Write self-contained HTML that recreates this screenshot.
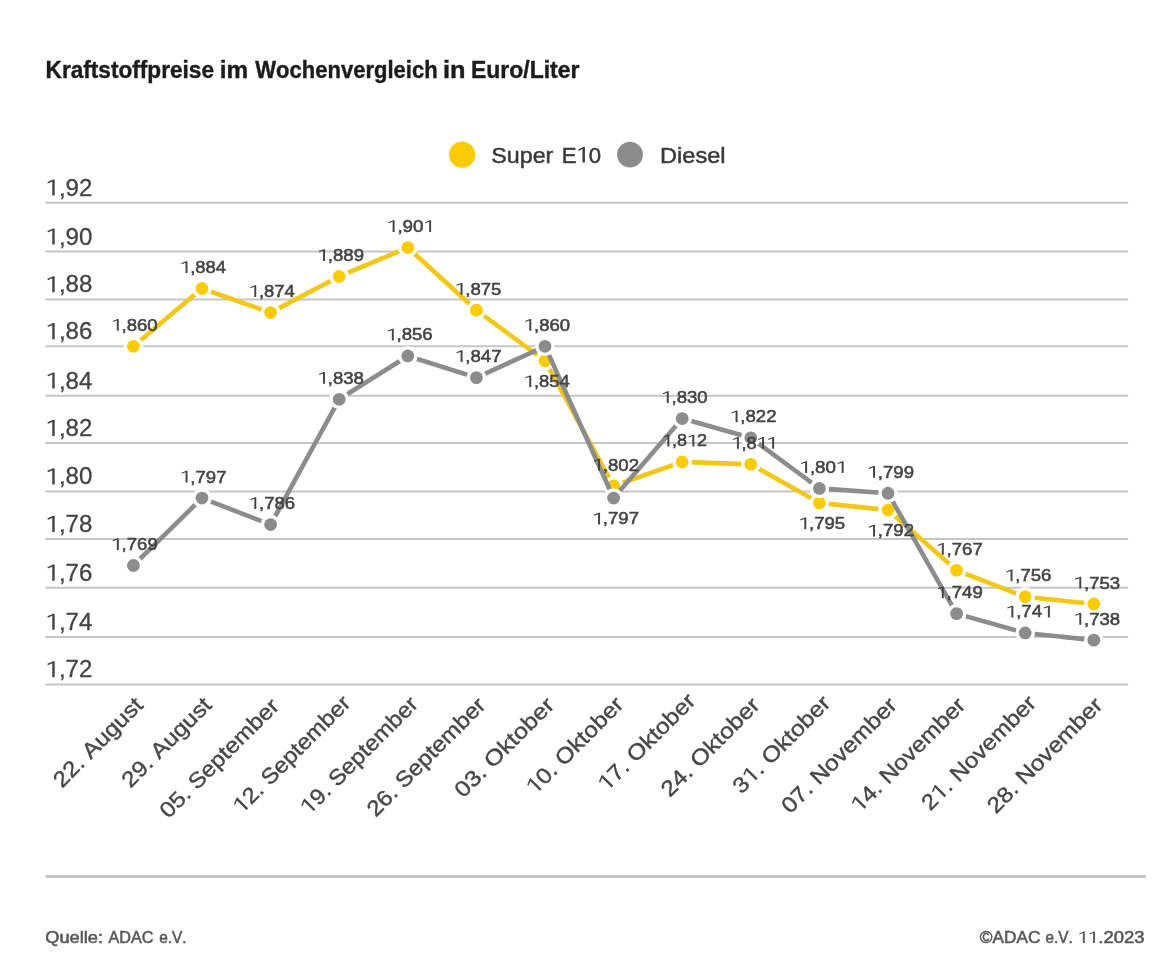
<!DOCTYPE html>
<html lang="de"><head><meta charset="utf-8"><title>Kraftstoffpreise im Wochenvergleich</title>
<style>html,body{margin:0;padding:0;background:#fff;}body{width:1156px;height:977px;overflow:hidden;font-family:"Liberation Sans",sans-serif;}svg{display:block;}</style></head>
<body>
<svg width="1156" height="977" viewBox="0 0 1156 977" font-family="Liberation Sans, sans-serif" style="font-kerning:none" xml:space="preserve">
<rect width="1156" height="977" fill="#ffffff"/>
<g opacity="0.999">
<text x="45.59" y="77.50" font-size="23.3" font-weight="bold" fill="#1c1c1c" stroke="#1c1c1c" stroke-width="0.4" textLength="168.39" lengthAdjust="spacingAndGlyphs">Kraftstoffpreise</text>
<text x="219.80" y="77.50" font-size="23.3" font-weight="bold" fill="#1c1c1c" stroke="#1c1c1c" stroke-width="0.4" textLength="28.41" lengthAdjust="spacingAndGlyphs">im</text>
<text x="255.28" y="77.50" font-size="23.3" font-weight="bold" fill="#1c1c1c" stroke="#1c1c1c" stroke-width="0.4" textLength="182.39" lengthAdjust="spacingAndGlyphs">Wochenvergleich</text>
<text x="443.03" y="77.50" font-size="23.3" font-weight="bold" fill="#1c1c1c" stroke="#1c1c1c" stroke-width="0.4" textLength="22.54" lengthAdjust="spacingAndGlyphs">in</text>
<text x="471.07" y="77.50" font-size="23.3" font-weight="bold" fill="#1c1c1c" stroke="#1c1c1c" stroke-width="0.4" textLength="108.28" lengthAdjust="spacingAndGlyphs">Euro/Liter</text>
<circle cx="462.1" cy="154.7" r="13.1" fill="#fccb00"/>
<circle cx="630.0" cy="154.7" r="12.9" fill="#8c8c8c"/>
<text x="491.34" y="162.50" font-size="22.0" fill="#3a3a3a" stroke="#3a3a3a" stroke-width="0.5" textLength="62.04" lengthAdjust="spacingAndGlyphs">Super</text>
<text x="561.78" y="162.50" font-size="22.0" fill="#3a3a3a" stroke="#3a3a3a" stroke-width="0.5" textLength="39.38" lengthAdjust="spacingAndGlyphs">E 0</text><path d="M582.49,162.50 L584.92,162.50 L584.92,147.10 L583.34,147.10 L578.23,149.52 L578.66,150.95 L582.49,149.10Z" fill="#3a3a3a"/>
<text x="659.96" y="162.50" font-size="22.0" fill="#3a3a3a" stroke="#3a3a3a" stroke-width="0.5" textLength="65.62" lengthAdjust="spacingAndGlyphs">Diesel</text>
<line x1="45.5" x2="1128.2" y1="202.7" y2="202.7" stroke="#c6c6c6" stroke-width="2"/>
<line x1="45.5" x2="1128.2" y1="251.6" y2="251.6" stroke="#c6c6c6" stroke-width="2"/>
<line x1="45.5" x2="1128.2" y1="299.4" y2="299.4" stroke="#c6c6c6" stroke-width="2"/>
<line x1="45.5" x2="1128.2" y1="346.3" y2="346.3" stroke="#c6c6c6" stroke-width="2"/>
<line x1="45.5" x2="1128.2" y1="395.7" y2="395.7" stroke="#c6c6c6" stroke-width="2"/>
<line x1="45.5" x2="1128.2" y1="443.0" y2="443.0" stroke="#c6c6c6" stroke-width="2"/>
<line x1="45.5" x2="1128.2" y1="491.5" y2="491.5" stroke="#c6c6c6" stroke-width="2"/>
<line x1="45.5" x2="1128.2" y1="539.0" y2="539.0" stroke="#c6c6c6" stroke-width="2"/>
<line x1="45.5" x2="1128.2" y1="587.8" y2="587.8" stroke="#c6c6c6" stroke-width="2"/>
<line x1="45.5" x2="1128.2" y1="636.9" y2="636.9" stroke="#c6c6c6" stroke-width="2"/>
<line x1="45.5" x2="1128.2" y1="684.4" y2="684.4" stroke="#c6c6c6" stroke-width="2"/>
<text x="45.57" y="195.60" font-size="23.0" fill="#444444" stroke="#444444" stroke-width="0.3" textLength="46.82" lengthAdjust="spacingAndGlyphs"> ,92</text><path d="M52.27,195.60 L54.67,195.60 L54.67,179.50 L53.15,179.50 L47.40,182.03 L47.85,183.53 L52.27,181.59Z" fill="#444444"/>
<text x="45.57" y="244.50" font-size="23.0" fill="#444444" stroke="#444444" stroke-width="0.3" textLength="46.82" lengthAdjust="spacingAndGlyphs"> ,90</text><path d="M52.27,244.50 L54.67,244.50 L54.67,228.40 L53.15,228.40 L47.40,230.93 L47.85,232.43 L52.27,230.49Z" fill="#444444"/>
<text x="45.57" y="292.30" font-size="23.0" fill="#444444" stroke="#444444" stroke-width="0.3" textLength="46.82" lengthAdjust="spacingAndGlyphs"> ,88</text><path d="M52.27,292.30 L54.67,292.30 L54.67,276.20 L53.15,276.20 L47.40,278.73 L47.85,280.22 L52.27,278.29Z" fill="#444444"/>
<text x="45.57" y="339.20" font-size="23.0" fill="#444444" stroke="#444444" stroke-width="0.3" textLength="46.82" lengthAdjust="spacingAndGlyphs"> ,86</text><path d="M52.27,339.20 L54.67,339.20 L54.67,323.10 L53.15,323.10 L47.40,325.63 L47.85,327.12 L52.27,325.19Z" fill="#444444"/>
<text x="45.57" y="388.60" font-size="23.0" fill="#444444" stroke="#444444" stroke-width="0.3" textLength="46.82" lengthAdjust="spacingAndGlyphs"> ,84</text><path d="M52.27,388.60 L54.67,388.60 L54.67,372.50 L53.15,372.50 L47.40,375.03 L47.85,376.52 L52.27,374.59Z" fill="#444444"/>
<text x="45.57" y="435.90" font-size="23.0" fill="#444444" stroke="#444444" stroke-width="0.3" textLength="46.82" lengthAdjust="spacingAndGlyphs"> ,82</text><path d="M52.27,435.90 L54.67,435.90 L54.67,419.80 L53.15,419.80 L47.40,422.33 L47.85,423.82 L52.27,421.89Z" fill="#444444"/>
<text x="45.57" y="484.40" font-size="23.0" fill="#444444" stroke="#444444" stroke-width="0.3" textLength="46.82" lengthAdjust="spacingAndGlyphs"> ,80</text><path d="M52.27,484.40 L54.67,484.40 L54.67,468.30 L53.15,468.30 L47.40,470.83 L47.85,472.32 L52.27,470.39Z" fill="#444444"/>
<text x="45.57" y="531.90" font-size="23.0" fill="#444444" stroke="#444444" stroke-width="0.3" textLength="46.82" lengthAdjust="spacingAndGlyphs"> ,78</text><path d="M52.27,531.90 L54.67,531.90 L54.67,515.80 L53.15,515.80 L47.40,518.33 L47.85,519.82 L52.27,517.89Z" fill="#444444"/>
<text x="45.57" y="580.70" font-size="23.0" fill="#444444" stroke="#444444" stroke-width="0.3" textLength="46.82" lengthAdjust="spacingAndGlyphs"> ,76</text><path d="M52.27,580.70 L54.67,580.70 L54.67,564.60 L53.15,564.60 L47.40,567.13 L47.85,568.62 L52.27,566.69Z" fill="#444444"/>
<text x="45.57" y="629.80" font-size="23.0" fill="#444444" stroke="#444444" stroke-width="0.3" textLength="46.82" lengthAdjust="spacingAndGlyphs"> ,74</text><path d="M52.27,629.80 L54.67,629.80 L54.67,613.70 L53.15,613.70 L47.40,616.23 L47.85,617.72 L52.27,615.79Z" fill="#444444"/>
<text x="45.57" y="677.30" font-size="23.0" fill="#444444" stroke="#444444" stroke-width="0.3" textLength="46.82" lengthAdjust="spacingAndGlyphs"> ,72</text><path d="M52.27,677.30 L54.67,677.30 L54.67,661.20 L53.15,661.20 L47.40,663.73 L47.85,665.22 L52.27,663.29Z" fill="#444444"/>
<polyline points="133.40,346.31 202.00,288.51 270.60,312.59 339.20,276.46 407.80,247.56 476.40,310.18 545.00,360.76 613.60,486.00 682.20,461.92 750.80,464.33 819.40,502.86 888.00,510.09 956.60,570.30 1025.20,596.79 1093.80,604.02" fill="none" stroke="#f3c716" stroke-width="4.6" stroke-linejoin="round" stroke-linecap="round"/>
<circle cx="133.40" cy="346.31" r="8.1" fill="#fccb00" stroke="#ffffff" stroke-width="3.4"/>
<circle cx="202.00" cy="288.51" r="8.1" fill="#fccb00" stroke="#ffffff" stroke-width="3.4"/>
<circle cx="270.60" cy="312.59" r="8.1" fill="#fccb00" stroke="#ffffff" stroke-width="3.4"/>
<circle cx="339.20" cy="276.46" r="8.1" fill="#fccb00" stroke="#ffffff" stroke-width="3.4"/>
<circle cx="407.80" cy="247.56" r="8.1" fill="#fccb00" stroke="#ffffff" stroke-width="3.4"/>
<circle cx="476.40" cy="310.18" r="8.1" fill="#fccb00" stroke="#ffffff" stroke-width="3.4"/>
<circle cx="545.00" cy="360.76" r="8.1" fill="#fccb00" stroke="#ffffff" stroke-width="3.4"/>
<circle cx="613.60" cy="486.00" r="8.1" fill="#fccb00" stroke="#ffffff" stroke-width="3.4"/>
<circle cx="682.20" cy="461.92" r="8.1" fill="#fccb00" stroke="#ffffff" stroke-width="3.4"/>
<circle cx="750.80" cy="464.33" r="8.1" fill="#fccb00" stroke="#ffffff" stroke-width="3.4"/>
<circle cx="819.40" cy="502.86" r="8.1" fill="#fccb00" stroke="#ffffff" stroke-width="3.4"/>
<circle cx="888.00" cy="510.09" r="8.1" fill="#fccb00" stroke="#ffffff" stroke-width="3.4"/>
<circle cx="956.60" cy="570.30" r="8.1" fill="#fccb00" stroke="#ffffff" stroke-width="3.4"/>
<circle cx="1025.20" cy="596.79" r="8.1" fill="#fccb00" stroke="#ffffff" stroke-width="3.4"/>
<circle cx="1093.80" cy="604.02" r="8.1" fill="#fccb00" stroke="#ffffff" stroke-width="3.4"/>
<polyline points="133.40,565.48 202.00,498.05 270.60,524.54 339.20,399.30 407.80,355.94 476.40,377.62 545.00,346.31 613.60,498.05 682.20,418.56 750.80,437.83 819.40,488.41 888.00,493.23 956.60,613.65 1025.20,632.92 1093.80,640.15" fill="none" stroke="#8c8c8c" stroke-width="4.6" stroke-linejoin="round" stroke-linecap="round"/>
<circle cx="133.40" cy="565.48" r="8.1" fill="#8c8c8c" stroke="#ffffff" stroke-width="3.4"/>
<circle cx="202.00" cy="498.05" r="8.1" fill="#8c8c8c" stroke="#ffffff" stroke-width="3.4"/>
<circle cx="270.60" cy="524.54" r="8.1" fill="#8c8c8c" stroke="#ffffff" stroke-width="3.4"/>
<circle cx="339.20" cy="399.30" r="8.1" fill="#8c8c8c" stroke="#ffffff" stroke-width="3.4"/>
<circle cx="407.80" cy="355.94" r="8.1" fill="#8c8c8c" stroke="#ffffff" stroke-width="3.4"/>
<circle cx="476.40" cy="377.62" r="8.1" fill="#8c8c8c" stroke="#ffffff" stroke-width="3.4"/>
<circle cx="545.00" cy="346.31" r="8.1" fill="#8c8c8c" stroke="#ffffff" stroke-width="3.4"/>
<circle cx="613.60" cy="498.05" r="8.1" fill="#8c8c8c" stroke="#ffffff" stroke-width="3.4"/>
<circle cx="682.20" cy="418.56" r="8.1" fill="#8c8c8c" stroke="#ffffff" stroke-width="3.4"/>
<circle cx="750.80" cy="437.83" r="8.1" fill="#8c8c8c" stroke="#ffffff" stroke-width="3.4"/>
<circle cx="819.40" cy="488.41" r="8.1" fill="#8c8c8c" stroke="#ffffff" stroke-width="3.4"/>
<circle cx="888.00" cy="493.23" r="8.1" fill="#8c8c8c" stroke="#ffffff" stroke-width="3.4"/>
<circle cx="956.60" cy="613.65" r="8.1" fill="#8c8c8c" stroke="#ffffff" stroke-width="3.4"/>
<circle cx="1025.20" cy="632.92" r="8.1" fill="#8c8c8c" stroke="#ffffff" stroke-width="3.4"/>
<circle cx="1093.80" cy="640.15" r="8.1" fill="#8c8c8c" stroke="#ffffff" stroke-width="3.4"/>
<text x="111.24" y="330.81" font-size="16.8" fill="#444444" stroke="#444444" stroke-width="0.55" textLength="46.33" lengthAdjust="spacingAndGlyphs"> ,860</text><path d="M116.80,330.81 L118.76,330.81 L118.76,319.05 L117.45,319.05 L112.65,320.90 L112.98,321.99 L116.80,320.58Z" fill="#444444"/>
<text x="179.99" y="273.01" font-size="16.8" fill="#444444" stroke="#444444" stroke-width="0.55" textLength="46.15" lengthAdjust="spacingAndGlyphs"> ,884</text><path d="M185.53,273.01 L187.48,273.01 L187.48,261.25 L186.18,261.25 L181.40,263.09 L181.73,264.19 L185.53,262.77Z" fill="#444444"/>
<text x="248.74" y="297.09" font-size="16.8" fill="#444444" stroke="#444444" stroke-width="0.55" textLength="46.15" lengthAdjust="spacingAndGlyphs"> ,874</text><path d="M254.28,297.09 L256.23,297.09 L256.23,285.33 L254.93,285.33 L250.15,287.18 L250.48,288.27 L254.28,286.86Z" fill="#444444"/>
<text x="317.48" y="260.96" font-size="16.8" fill="#444444" stroke="#444444" stroke-width="0.55" textLength="46.50" lengthAdjust="spacingAndGlyphs"> ,889</text><path d="M323.07,260.96 L325.03,260.96 L325.03,249.20 L323.72,249.20 L318.90,251.05 L319.23,252.14 L323.07,250.73Z" fill="#444444"/>
<text x="386.97" y="232.06" font-size="16.8" fill="#444444" stroke="#444444" stroke-width="0.55" textLength="46.95" lengthAdjust="spacingAndGlyphs"> ,90 </text><path d="M392.63,232.06 L394.59,232.06 L394.59,220.30 L393.28,220.30 L388.40,222.15 L388.73,223.24 L392.63,221.83Z" fill="#444444"/><path d="M429.15,232.06 L431.10,232.06 L431.10,220.30 L429.79,220.30 L424.91,222.15 L425.24,223.24 L429.15,221.83Z" fill="#444444"/>
<text x="454.99" y="294.68" font-size="16.8" fill="#444444" stroke="#444444" stroke-width="0.55" textLength="46.39" lengthAdjust="spacingAndGlyphs"> ,875</text><path d="M460.56,294.68 L462.51,294.68 L462.51,282.92 L461.21,282.92 L456.40,284.77 L456.73,285.86 L460.56,284.45Z" fill="#444444"/>
<text x="523.74" y="387.16" font-size="16.8" fill="#444444" stroke="#444444" stroke-width="0.55" textLength="46.15" lengthAdjust="spacingAndGlyphs"> ,854</text><path d="M529.28,387.16 L531.23,387.16 L531.23,375.40 L529.93,375.40 L525.15,377.25 L525.48,378.34 L529.28,376.93Z" fill="#444444"/>
<text x="592.48" y="470.50" font-size="16.8" fill="#444444" stroke="#444444" stroke-width="0.55" textLength="46.55" lengthAdjust="spacingAndGlyphs"> ,802</text><path d="M598.08,470.50 L600.04,470.50 L600.04,458.74 L598.73,458.74 L593.90,460.59 L594.23,461.68 L598.08,460.27Z" fill="#444444"/>
<text x="662.03" y="446.42" font-size="16.8" fill="#444444" stroke="#444444" stroke-width="0.55" textLength="44.97" lengthAdjust="spacingAndGlyphs"> ,8 2</text><path d="M667.37,446.42 L669.33,446.42 L669.33,434.66 L668.02,434.66 L663.40,436.50 L663.73,437.60 L667.37,436.19Z" fill="#444444"/><path d="M692.36,446.42 L694.31,446.42 L694.31,434.66 L693.00,434.66 L688.38,436.50 L688.71,437.60 L692.36,436.19Z" fill="#444444"/>
<text x="731.52" y="448.83" font-size="16.8" fill="#444444" stroke="#444444" stroke-width="0.55" textLength="45.30" lengthAdjust="spacingAndGlyphs"> ,8  </text><path d="M736.92,448.83 L738.87,448.83 L738.87,437.07 L737.56,437.07 L732.90,438.91 L733.23,440.01 L736.92,438.60Z" fill="#444444"/><path d="M762.08,448.83 L764.03,448.83 L764.03,437.07 L762.73,437.07 L758.06,438.91 L758.39,440.01 L762.08,438.60Z" fill="#444444"/><path d="M772.15,448.83 L774.10,448.83 L774.10,437.07 L772.79,437.07 L768.13,438.91 L768.46,440.01 L772.15,438.60Z" fill="#444444"/>
<text x="798.74" y="529.26" font-size="16.8" fill="#444444" stroke="#444444" stroke-width="0.55" textLength="46.39" lengthAdjust="spacingAndGlyphs"> ,795</text><path d="M804.31,529.26 L806.26,529.26 L806.26,517.50 L804.96,517.50 L800.15,519.35 L800.48,520.44 L804.31,519.03Z" fill="#444444"/>
<text x="867.48" y="536.49" font-size="16.8" fill="#444444" stroke="#444444" stroke-width="0.55" textLength="46.55" lengthAdjust="spacingAndGlyphs"> ,792</text><path d="M873.08,536.49 L875.04,536.49 L875.04,524.73 L873.73,524.73 L868.90,526.57 L869.23,527.67 L873.08,526.26Z" fill="#444444"/>
<text x="936.23" y="554.80" font-size="16.8" fill="#444444" stroke="#444444" stroke-width="0.55" textLength="46.55" lengthAdjust="spacingAndGlyphs"> ,767</text><path d="M941.83,554.80 L943.79,554.80 L943.79,543.04 L942.48,543.04 L937.65,544.89 L937.98,545.98 L941.83,544.57Z" fill="#444444"/>
<text x="1004.99" y="581.29" font-size="16.8" fill="#444444" stroke="#444444" stroke-width="0.55" textLength="46.43" lengthAdjust="spacingAndGlyphs"> ,756</text><path d="M1010.57,581.29 L1012.52,581.29 L1012.52,569.53 L1011.21,569.53 L1006.40,571.38 L1006.73,572.47 L1010.57,571.06Z" fill="#444444"/>
<text x="1073.74" y="588.52" font-size="16.8" fill="#444444" stroke="#444444" stroke-width="0.55" textLength="46.43" lengthAdjust="spacingAndGlyphs"> ,753</text><path d="M1079.32,588.52 L1081.27,588.52 L1081.27,576.76 L1079.96,576.76 L1075.15,578.61 L1075.48,579.70 L1079.32,578.29Z" fill="#444444"/>
<text x="111.23" y="549.98" font-size="16.8" fill="#444444" stroke="#444444" stroke-width="0.55" textLength="46.50" lengthAdjust="spacingAndGlyphs"> ,769</text><path d="M116.82,549.98 L118.78,549.98 L118.78,538.22 L117.47,538.22 L112.65,540.07 L112.98,541.16 L116.82,539.75Z" fill="#444444"/>
<text x="179.98" y="482.55" font-size="16.8" fill="#444444" stroke="#444444" stroke-width="0.55" textLength="46.55" lengthAdjust="spacingAndGlyphs"> ,797</text><path d="M185.58,482.55 L187.54,482.55 L187.54,470.79 L186.23,470.79 L181.40,472.63 L181.73,473.73 L185.58,472.31Z" fill="#444444"/>
<text x="248.74" y="509.04" font-size="16.8" fill="#444444" stroke="#444444" stroke-width="0.55" textLength="46.43" lengthAdjust="spacingAndGlyphs"> ,786</text><path d="M254.32,509.04 L256.27,509.04 L256.27,497.28 L254.96,497.28 L250.15,499.13 L250.48,500.22 L254.32,498.81Z" fill="#444444"/>
<text x="317.49" y="383.80" font-size="16.8" fill="#444444" stroke="#444444" stroke-width="0.55" textLength="46.42" lengthAdjust="spacingAndGlyphs"> ,838</text><path d="M323.06,383.80 L325.02,383.80 L325.02,372.04 L323.71,372.04 L318.90,373.88 L319.23,374.98 L323.06,373.57Z" fill="#444444"/>
<text x="386.24" y="340.44" font-size="16.8" fill="#444444" stroke="#444444" stroke-width="0.55" textLength="46.43" lengthAdjust="spacingAndGlyphs"> ,856</text><path d="M391.82,340.44 L393.77,340.44 L393.77,328.68 L392.46,328.68 L387.65,330.53 L387.98,331.62 L391.82,330.21Z" fill="#444444"/>
<text x="454.98" y="362.12" font-size="16.8" fill="#444444" stroke="#444444" stroke-width="0.55" textLength="46.55" lengthAdjust="spacingAndGlyphs"> ,847</text><path d="M460.58,362.12 L462.54,362.12 L462.54,350.36 L461.23,350.36 L456.40,352.21 L456.73,353.30 L460.58,351.89Z" fill="#444444"/>
<text x="523.74" y="330.81" font-size="16.8" fill="#444444" stroke="#444444" stroke-width="0.55" textLength="46.33" lengthAdjust="spacingAndGlyphs"> ,860</text><path d="M529.30,330.81 L531.26,330.81 L531.26,319.05 L529.95,319.05 L525.15,320.90 L525.48,321.99 L529.30,320.58Z" fill="#444444"/>
<text x="592.48" y="524.45" font-size="16.8" fill="#444444" stroke="#444444" stroke-width="0.55" textLength="46.55" lengthAdjust="spacingAndGlyphs"> ,797</text><path d="M598.08,524.45 L600.04,524.45 L600.04,512.69 L598.73,512.69 L593.90,514.53 L594.23,515.63 L598.08,514.21Z" fill="#444444"/>
<text x="661.24" y="403.06" font-size="16.8" fill="#444444" stroke="#444444" stroke-width="0.55" textLength="46.33" lengthAdjust="spacingAndGlyphs"> ,830</text><path d="M666.80,403.06 L668.76,403.06 L668.76,391.30 L667.45,391.30 L662.65,393.15 L662.98,394.24 L666.80,392.83Z" fill="#444444"/>
<text x="729.98" y="422.33" font-size="16.8" fill="#444444" stroke="#444444" stroke-width="0.55" textLength="46.55" lengthAdjust="spacingAndGlyphs"> ,822</text><path d="M735.58,422.33 L737.54,422.33 L737.54,410.57 L736.23,410.57 L731.40,412.42 L731.73,413.51 L735.58,412.10Z" fill="#444444"/>
<text x="799.47" y="472.91" font-size="16.8" fill="#444444" stroke="#444444" stroke-width="0.55" textLength="46.95" lengthAdjust="spacingAndGlyphs"> ,80 </text><path d="M805.13,472.91 L807.09,472.91 L807.09,461.15 L805.78,461.15 L800.90,463.00 L801.23,464.09 L805.13,462.68Z" fill="#444444"/><path d="M841.65,472.91 L843.60,472.91 L843.60,461.15 L842.29,461.15 L837.41,463.00 L837.74,464.09 L841.65,462.68Z" fill="#444444"/>
<text x="867.48" y="477.73" font-size="16.8" fill="#444444" stroke="#444444" stroke-width="0.55" textLength="46.50" lengthAdjust="spacingAndGlyphs"> ,799</text><path d="M873.07,477.73 L875.03,477.73 L875.03,465.97 L873.72,465.97 L868.90,467.81 L869.23,468.91 L873.07,467.50Z" fill="#444444"/>
<text x="936.23" y="598.15" font-size="16.8" fill="#444444" stroke="#444444" stroke-width="0.55" textLength="46.50" lengthAdjust="spacingAndGlyphs"> ,749</text><path d="M941.82,598.15 L943.78,598.15 L943.78,586.39 L942.47,586.39 L937.65,588.24 L937.98,589.33 L941.82,587.92Z" fill="#444444"/>
<text x="1005.72" y="617.42" font-size="16.8" fill="#444444" stroke="#444444" stroke-width="0.55" textLength="46.95" lengthAdjust="spacingAndGlyphs"> ,74 </text><path d="M1011.38,617.42 L1013.34,617.42 L1013.34,605.66 L1012.03,605.66 L1007.15,607.51 L1007.48,608.60 L1011.38,607.19Z" fill="#444444"/><path d="M1047.90,617.42 L1049.85,617.42 L1049.85,605.66 L1048.54,605.66 L1043.66,607.51 L1043.99,608.60 L1047.90,607.19Z" fill="#444444"/>
<text x="1073.74" y="624.65" font-size="16.8" fill="#444444" stroke="#444444" stroke-width="0.55" textLength="46.42" lengthAdjust="spacingAndGlyphs"> ,738</text><path d="M1079.31,624.65 L1081.27,624.65 L1081.27,612.89 L1079.96,612.89 L1075.15,614.73 L1075.48,615.83 L1079.31,614.42Z" fill="#444444"/>
<g transform="translate(144.20 706.50) rotate(-45)"><text x="-116.23" y="0.00" font-size="22" fill="#474747" stroke="#474747" stroke-width="0.4" textLength="116.23" lengthAdjust="spacingAndGlyphs">22. August</text></g>
<g transform="translate(212.75 706.50) rotate(-45)"><text x="-116.23" y="0.00" font-size="22" fill="#474747" stroke="#474747" stroke-width="0.4" textLength="116.23" lengthAdjust="spacingAndGlyphs">29. August</text></g>
<g transform="translate(280.30 707.50) rotate(-45)"><text x="-158.02" y="0.00" font-size="22" fill="#474747" stroke="#474747" stroke-width="0.4" textLength="158.02" lengthAdjust="spacingAndGlyphs">05. September</text></g>
<g transform="translate(351.85 704.50) rotate(-45)"><text x="-155.71" y="0.00" font-size="22" fill="#474747" stroke="#474747" stroke-width="0.4" textLength="155.71" lengthAdjust="spacingAndGlyphs"> 2. September</text><path d="M-149.10,0.00 L-146.73,0.00 L-146.73,-15.40 L-148.25,-15.40 L-153.90,-12.98 L-153.47,-11.55 L-149.10,-13.40Z" fill="#474747"/></g>
<g transform="translate(419.40 705.50) rotate(-45)"><text x="-156.00" y="0.00" font-size="22" fill="#474747" stroke="#474747" stroke-width="0.4" textLength="156.00" lengthAdjust="spacingAndGlyphs"> 9. September</text><path d="M-149.37,0.00 L-147.01,0.00 L-147.01,-15.40 L-148.52,-15.40 L-154.19,-12.98 L-153.76,-11.55 L-149.37,-13.40Z" fill="#474747"/></g>
<g transform="translate(486.95 706.50) rotate(-45)"><text x="-157.44" y="0.00" font-size="22" fill="#474747" stroke="#474747" stroke-width="0.4" textLength="157.44" lengthAdjust="spacingAndGlyphs">26. September</text></g>
<g transform="translate(555.50 706.50) rotate(-45)"><text x="-130.36" y="0.00" font-size="22" fill="#474747" stroke="#474747" stroke-width="0.4" textLength="130.36" lengthAdjust="spacingAndGlyphs">03. Oktober</text></g>
<g transform="translate(624.75 705.80) rotate(-45)"><text x="-126.91" y="0.00" font-size="22" fill="#474747" stroke="#474747" stroke-width="0.4" textLength="126.91" lengthAdjust="spacingAndGlyphs"> 0. Oktober</text><path d="M-120.09,0.00 L-117.72,0.00 L-117.72,-15.40 L-119.24,-15.40 L-125.06,-12.98 L-124.63,-11.55 L-120.09,-13.40Z" fill="#474747"/></g>
<g transform="translate(696.75 702.35) rotate(-45)"><text x="-127.25" y="0.00" font-size="22" fill="#474747" stroke="#474747" stroke-width="0.4" textLength="127.25" lengthAdjust="spacingAndGlyphs"> 7. Oktober</text><path d="M-120.41,0.00 L-118.04,0.00 L-118.04,-15.40 L-119.56,-15.40 L-125.40,-12.98 L-124.97,-11.55 L-120.41,-13.40Z" fill="#474747"/></g>
<g transform="translate(761.15 706.50) rotate(-45)"><text x="-129.32" y="0.00" font-size="22" fill="#474747" stroke="#474747" stroke-width="0.4" textLength="129.32" lengthAdjust="spacingAndGlyphs">24. Oktober</text></g>
<g transform="translate(831.70 704.50) rotate(-45)"><text x="-127.48" y="0.00" font-size="22" fill="#474747" stroke="#474747" stroke-width="0.4" textLength="127.48" lengthAdjust="spacingAndGlyphs">3 . Oktober</text><path d="M-107.05,0.00 L-104.69,0.00 L-104.69,-15.40 L-106.20,-15.40 L-112.05,-12.98 L-111.62,-11.55 L-107.05,-13.40Z" fill="#474747"/></g>
<g transform="translate(898.25 706.50) rotate(-45)"><text x="-152.69" y="0.00" font-size="22" fill="#474747" stroke="#474747" stroke-width="0.4" textLength="152.69" lengthAdjust="spacingAndGlyphs">07. November</text></g>
<g transform="translate(966.80 706.50) rotate(-45)"><text x="-151.30" y="0.00" font-size="22" fill="#474747" stroke="#474747" stroke-width="0.4" textLength="151.30" lengthAdjust="spacingAndGlyphs"> 4. November</text><path d="M-144.56,0.00 L-142.19,0.00 L-142.19,-15.40 L-143.71,-15.40 L-149.47,-12.98 L-149.04,-11.55 L-144.56,-13.40Z" fill="#474747"/></g>
<g transform="translate(1037.35 704.50) rotate(-45)"><text x="-151.30" y="0.00" font-size="22" fill="#474747" stroke="#474747" stroke-width="0.4" textLength="151.30" lengthAdjust="spacingAndGlyphs">2 . November</text><path d="M-131.16,0.00 L-128.80,0.00 L-128.80,-15.40 L-130.31,-15.40 L-136.07,-12.98 L-135.64,-11.55 L-131.16,-13.40Z" fill="#474747"/></g>
<g transform="translate(1103.90 706.50) rotate(-45)"><text x="-152.69" y="0.00" font-size="22" fill="#474747" stroke="#474747" stroke-width="0.4" textLength="152.69" lengthAdjust="spacingAndGlyphs">28. November</text></g>
<line x1="45.6" x2="1146.2" y1="876.5" y2="876.5" stroke="#c6c6c6" stroke-width="3"/>
<text x="45.24" y="943.00" font-size="16.3" fill="#585858" stroke="#585858" stroke-width="0.55" textLength="57.83" lengthAdjust="spacingAndGlyphs">Quelle:</text>
<text x="108.57" y="943.00" font-size="16.3" fill="#585858" stroke="#585858" stroke-width="0.55" textLength="44.85" lengthAdjust="spacingAndGlyphs">ADAC</text>
<text x="159.14" y="943.00" font-size="16.3" fill="#585858" stroke="#585858" stroke-width="0.55" textLength="27.47" lengthAdjust="spacingAndGlyphs">e.V.</text>
<text x="979.84" y="943.00" font-size="16.3" fill="#585858" stroke="#585858" stroke-width="0.55" textLength="60.52" lengthAdjust="spacingAndGlyphs">©ADAC</text>
<text x="1045.55" y="943.00" font-size="16.3" fill="#585858" stroke="#585858" stroke-width="0.55" textLength="27.25" lengthAdjust="spacingAndGlyphs">e.V.</text>
<text x="1077.80" y="943.00" font-size="16.3" fill="#585858" stroke="#585858" stroke-width="0.55" textLength="66.61" lengthAdjust="spacingAndGlyphs">  .2023</text><path d="M1082.86,943.00 L1084.77,943.00 L1084.77,931.59 L1083.49,931.59 L1079.20,933.38 L1079.52,934.44 L1082.86,933.07Z" fill="#585858"/><path d="M1093.11,943.00 L1095.01,943.00 L1095.01,931.59 L1093.74,931.59 L1089.45,933.38 L1089.77,934.44 L1093.11,933.07Z" fill="#585858"/>
</g>
</svg>
</body></html>
